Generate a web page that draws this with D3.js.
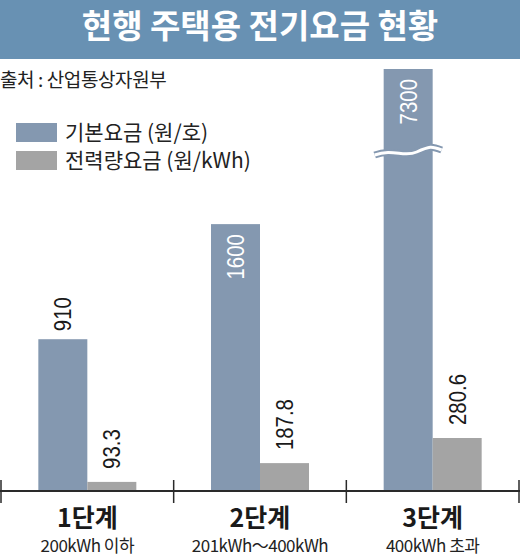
<!DOCTYPE html>
<html>
<head>
<meta charset="utf-8">
<script src="https://cdn.jsdelivr.net/npm/d3@7"></script>
<style>
  body { margin: 0; background: #ffffff; }
</style>
</head>
<body>
<script>
// variables with the data
var steps = ["1단계", "2단계", "3단계"];
var ranges = ["200kWh 이하", "201kWh～400kWh", "400kWh 초과"];
var baseFee = [910, 1600, 7300];
var energyFee = [93.3, 187.8, 280.6];
var seriesNames = ["기본요금 (원/호)", "전력량요금 (원/kWh)"];
var seriesKeys = ["base", "energy"];

var chartTitle = "현행 주택용 전기요금 현황";
var sourceText = "출처 : 산업통상자원부";

// size of the picture
var w = 520;
var h = 557;
var axisY = 491;
var topY = 69;
var groupWidth = 98;

// colors
var color = ["#8498b0", "#a4a4a4"];
var bannerColor = "#6891b3";
var korFont = "'Noto Sans CJK KR', 'Noto Sans', sans-serif";
var numFont = "'Liberation Sans', Arial, sans-serif";

// combine data per step
var stepData = steps.map(function(s, i) {
  return {step: s, range: ranges[i], base: baseFee[i], energy: energyFee[i]};
});

// scales, the blue bars are cut off at the top
var x0 = d3.scaleBand()
           .domain(steps)
           .range([1, w - 1]);

var x1 = d3.scaleBand()
           .domain(seriesKeys)
           .range([0, groupWidth]);

var yBase = d3.scaleLinear()
              .domain([0, 2530])
              .range([axisY, topY])
              .clamp(true);

// gray bars are drawn out of proportion in the original
var yEnergy = d3.scalePow()
                .exponent(1.6)
                .domain([0, d3.max(energyFee)])
                .range([axisY, 438]);

var yScales = {base: yBase, energy: yEnergy};

function barX(d, key) {
  return x0(d.step) + (x0.bandwidth() - groupWidth) / 2 + x1(key);
}

// create svg element
var svg = d3.select("body")
            .append("svg")
            .attr("width", w)
            .attr("height", h);

// title banner
svg.append("rect")
   .attr("x", 0)
   .attr("y", 0)
   .attr("width", w)
   .attr("height", 59)
   .attr("fill", bannerColor);

svg.append("text")
   .attr("x", w / 2)
   .attr("y", 38)
   .attr("text-anchor", "middle")
   .attr("font-family", korFont)
   .attr("font-weight", "bold")
   .attr("font-size", "33px")
   .attr("fill", "#ffffff")
   .text(chartTitle);

// source
svg.append("text")
   .attr("x", 0)
   .attr("y", 87)
   .attr("font-family", korFont)
   .attr("font-size", "19px")
   .attr("letter-spacing", "-0.4px")
   .attr("fill", "#222222")
   .text(sourceText);

// legend
var legend = svg.append("g");
for (var n = 0; n < seriesNames.length; n++) {
  legend.append("rect")
        .attr("x", 16)
        .attr("y", 123 + n * 28)
        .attr("width", 41)
        .attr("height", 19)
        .attr("fill", color[n]);
  legend.append("text")
        .attr("x", 65)
        .attr("y", 140 + n * 28)
        .attr("font-family", korFont)
        .attr("font-size", "21px")
        .attr("fill", "#222222")
        .text(seriesNames[n]);
}

// bars
var groups = svg.selectAll(".group")
                .data(stepData)
                .enter()
                .append("g")
                .attr("class", "group");

seriesKeys.forEach(function(key, k) {
  groups.append("rect")
        .attr("x", function(d) { return barX(d, key); })
        .attr("y", function(d) { return yScales[key](d[key]); })
        .attr("width", x1.bandwidth())
        .attr("height", function(d) { return axisY - yScales[key](d[key]); })
        .attr("fill", color[k]);

  // value labels, rotated; long blue bars get the label inside
  groups.append("text")
        .attr("transform", function(d) {
          var top = yScales[key](d[key]);
          var inside = key == "base" && axisY - top > 200;
          var gap = key == "base" ? 8 : 13;
          var y = inside ? top + 10 : top - gap;
          return "translate(" + (barX(d, key) + x1.bandwidth() / 2) + "," + y +
                 ") rotate(-90) scale(0.85,1)";
        })
        .attr("dy", "0.36em")
        .attr("text-anchor", function(d) {
          var inside = key == "base" && axisY - yScales[key](d[key]) > 200;
          return inside ? "end" : "start";
        })
        .attr("font-family", numFont)
        .attr("font-size", "24px")
        .attr("fill", function(d) {
          var inside = key == "base" && axisY - yScales[key](d[key]) > 200;
          return inside ? "#ffffff" : "#1a1a1a";
        })
        .text(function(d) { return d[key]; });
});

// break mark on bars that go past the top of the scale
var wave = function(x, y) {
  return "M" + (x - 9) + "," + (y + 3) +
         " C" + (x + 10) + "," + (y - 4) + " " + (x + 20) + "," + (y + 6) + " " + (x + 33) + "," + y +
         " S" + (x + 48) + "," + (y - 6) + " " + (x + 58) + "," + (y - 2);
};

var broken = stepData.filter(function(d) { return d.base > yBase.domain()[1]; });

svg.selectAll(".breakOuter")
   .data(broken)
   .enter()
   .append("path")
   .attr("d", function(d) { return wave(barX(d, "base"), 152); })
   .attr("fill", "none")
   .attr("stroke", color[0])
   .attr("stroke-width", 7);

svg.selectAll(".breakInner")
   .data(broken)
   .enter()
   .append("path")
   .attr("d", function(d) { return wave(barX(d, "base"), 152); })
   .attr("fill", "none")
   .attr("stroke", "#ffffff")
   .attr("stroke-width", 3);

// x axis line with ticks between the steps
svg.append("line")
   .attr("x1", 0)
   .attr("x2", w)
   .attr("y1", axisY)
   .attr("y2", axisY)
   .attr("stroke", "#2a2a2a")
   .attr("stroke-width", 2);

var tickX = steps.map(function(s) { return x0(s); }).concat([x0.range()[1]]);
svg.selectAll(".tick")
   .data(tickX)
   .enter()
   .append("line")
   .attr("x1", function(d) { return d; })
   .attr("x2", function(d) { return d; })
   .attr("y1", axisY - 11)
   .attr("y2", axisY + 12)
   .attr("stroke", "#2a2a2a")
   .attr("stroke-width", 1.5);

// step names and ranges
groups.append("text")
      .attr("x", function(d) { return x0(d.step) + x0.bandwidth() / 2; })
      .attr("y", 527)
      .attr("text-anchor", "middle")
      .attr("font-family", korFont)
      .attr("font-weight", "bold")
      .attr("font-size", "25px")
      .attr("fill", "#1a1a1a")
      .text(function(d) { return d.step; });

groups.append("text")
      .attr("x", function(d) { return x0(d.step) + x0.bandwidth() / 2; })
      .attr("y", 552)
      .attr("text-anchor", "middle")
      .attr("font-family", korFont)
      .attr("font-size", "17px")
      .attr("letter-spacing", "-0.5px")
      .attr("fill", "#222222")
      .text(function(d) { return d.range; });
</script>
</body>
</html>
